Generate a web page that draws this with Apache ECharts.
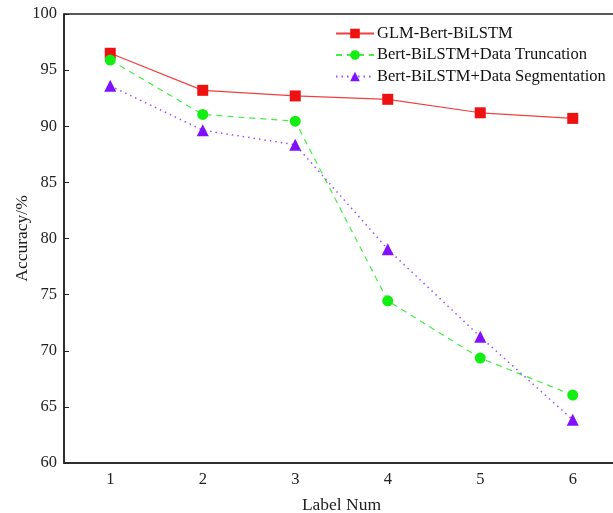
<!DOCTYPE html>
<html>
<head>
<meta charset="utf-8">
<script src="https://cdn.jsdelivr.net/npm/echarts@6/dist/echarts.min.js"></script>
<style>html,body{margin:0;padding:0;background:#fff}#c{width:613px;height:513px}</style>
</head>
<body>
<div id="c"></div>
<script>
const labelNums = ['1', '2', '3', '4', '5', '6'];
const glmBertBiLSTM = [96.5, 93.2, 92.7, 92.4, 91.2, 90.7];
const dataTruncation = [95.9, 91.05, 90.45, 74.45, 69.35, 66.05];
const dataSegmentation = [93.6, 89.65, 88.35, 79.05, 71.25, 63.85];
const seriesNames = ['GLM-Bert-BiLSTM', 'Bert-BiLSTM+Data Truncation', 'Bert-BiLSTM+Data Segmentation'];

const font = 'Liberation Serif';
const chart = echarts.init(document.getElementById('c'));
chart.setOption({
  animation: false,
  backgroundColor: '#fff',
  textStyle: { fontFamily: font },
  grid: { left: 64, right: -6, top: 14, bottom: 50, outerBoundsMode: 'none', containLabel: false,
    show: true, borderColor: '#222', borderWidth: 1.5, backgroundColor: 'transparent' },
  legend: {
    orient: 'vertical',
    left: 335, top: 25,
    itemWidth: 38, itemHeight: 12, itemGap: 4.5, padding: 0,
    textStyle: { fontFamily: font, fontSize: 16.5, color: '#111', padding: [0, 0, 0, -2] },
    data: seriesNames
  },
  xAxis: {
    type: 'category', data: labelNums, boundaryGap: true,
    name: 'Label Num', nameLocation: 'middle', nameGap: 33, nameMoveOverlap: false,
    nameTextStyle: { fontFamily: font, fontSize: 17.5, color: '#222' },
    axisLine: { lineStyle: { color: '#222', width: 1.5 } },
    axisTick: { inside: true, alignWithLabel: true, length: 5, lineStyle: { color: '#222' } },
    axisLabel: { fontFamily: font, fontSize: 16.5, color: '#222', margin: 8 },
    splitLine: { show: false }
  },
  yAxis: {
    type: 'value', min: 60, max: 100, interval: 5,
    name: 'Accuracy/%', nameLocation: 'middle', nameGap: 33, nameMoveOverlap: false,
    nameTextStyle: { fontFamily: font, fontSize: 17.5, color: '#222' },
    axisLine: { show: true, lineStyle: { color: '#222', width: 1.5 } },
    axisTick: { show: true, inside: true, length: 5, lineStyle: { color: '#222' } },
    axisLabel: { fontFamily: font, fontSize: 16.5, color: '#222', margin: 7 },
    splitLine: { show: false }
  },
  series: [
    { name: seriesNames[0], type: 'line', data: glmBertBiLSTM,
      symbol: 'rect', symbolSize: 11,
      itemStyle: { color: '#ee1111' },
      lineStyle: { color: '#f04040', width: 1.2, type: 'solid' } },
    { name: seriesNames[1], type: 'line', data: dataTruncation,
      symbol: 'circle', symbolSize: 11,
      itemStyle: { color: '#11ee11' },
      lineStyle: { color: '#44ee44', width: 1.2, type: [6, 5] } },
    { name: seriesNames[2], type: 'line', data: dataSegmentation,
      symbol: 'triangle', symbolSize: 12,
      itemStyle: { color: '#8010ff' },
      lineStyle: { color: '#9a50ff', width: 1.5, type: [1.5, 4] } }
  ]
});
</script>
</body>
</html>
